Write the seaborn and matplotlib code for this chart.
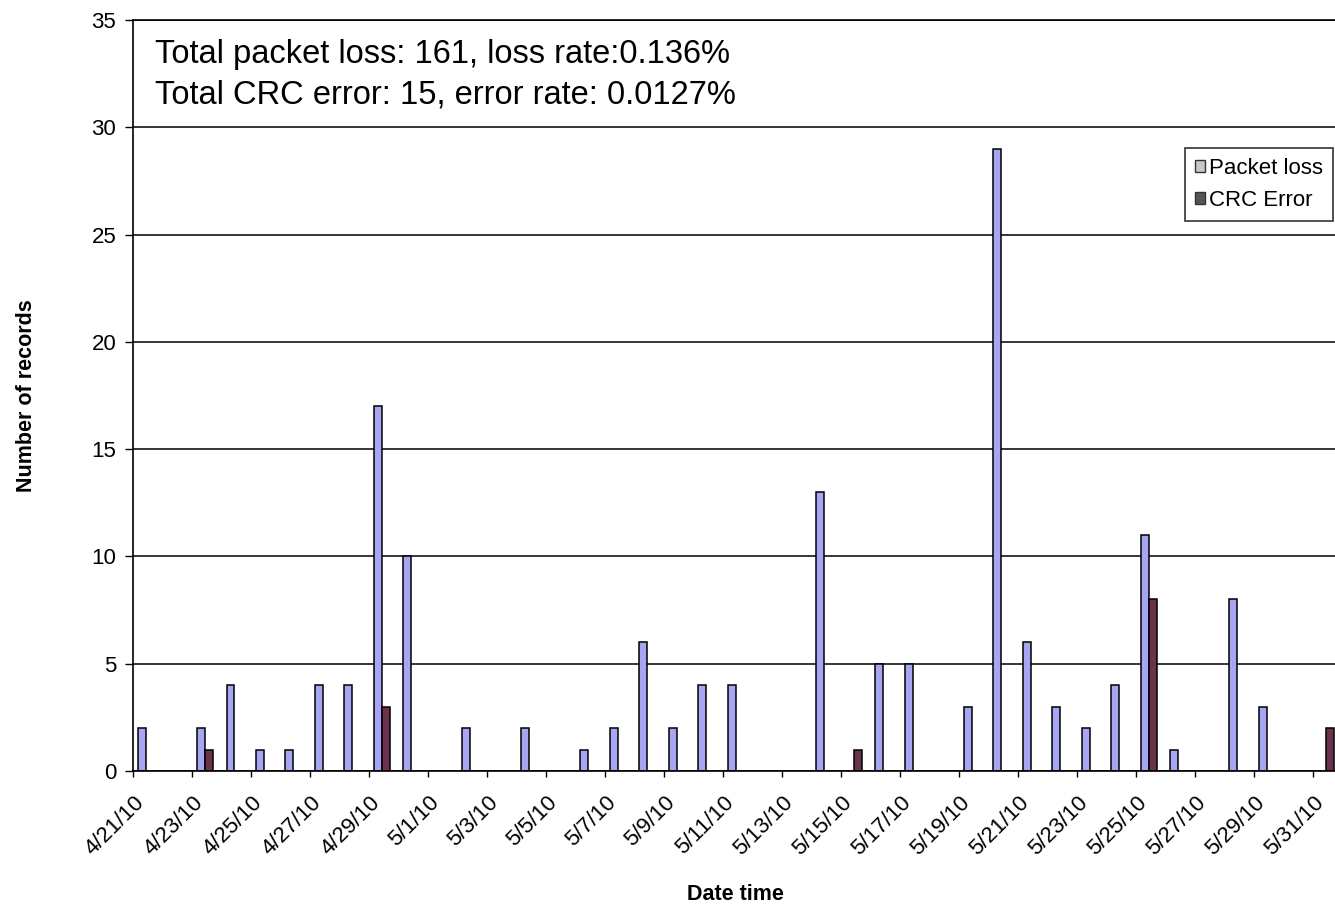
import numpy as np
import pandas as pd
import matplotlib
matplotlib.use("Agg")
import matplotlib.pyplot as plt
from matplotlib.patches import Patch
from matplotlib.transforms import ScaledTranslation
import seaborn as sns

# ---- data ----
loss_dates = ["4/21/10", "4/23/10", "4/24/10", "4/25/10", "4/26/10", "4/27/10", "4/28/10",
              "4/29/10", "4/30/10", "5/2/10", "5/4/10", "5/6/10", "5/7/10", "5/8/10",
              "5/9/10", "5/10/10", "5/11/10", "5/14/10", "5/16/10", "5/17/10", "5/19/10",
              "5/20/10", "5/21/10", "5/22/10", "5/23/10", "5/24/10", "5/25/10", "5/26/10",
              "5/28/10", "5/29/10"]
loss_counts = [2, 2, 4, 1, 1, 4, 4, 17, 10, 2, 2, 1, 2, 6, 2, 4, 4, 13, 5, 5, 3, 29, 6, 3,
               2, 4, 11, 1, 8, 3]
crc_dates = ["4/23/10", "4/29/10", "5/15/10", "5/25/10", "5/31/10"]
crc_counts = [1, 3, 1, 8, 2]
series_names = ["Packet loss", "CRC Error"]
note_lines = ["Total packet loss: 161, loss rate:0.136%",
              "Total CRC error: 15, error rate: 0.0127%"]

days = pd.date_range("2010-04-21", "2010-05-31", freq="D")
all_labels = [f"{d.month}/{d.day}/10" for d in days]

df = pd.DataFrame({
    "date": loss_dates + crc_dates,
    "count": loss_counts + crc_counts,
    "series": [series_names[0]] * len(loss_dates) + [series_names[1]] * len(crc_dates),
})

# ---- style ----
sns.set_style("white")
plt.rcParams["font.family"] = ["Liberation Sans", "DejaVu Sans"]
plt.rcParams["text.color"] = "black"
plt.rcParams["axes.labelcolor"] = "black"
plt.rcParams["xtick.color"] = "black"
plt.rcParams["ytick.color"] = "black"

W, H = 1335, 906
fig = plt.figure(figsize=(W / 100, H / 100), dpi=100)
ax = fig.add_axes([133 / W, 1 - 771 / H, 1 - 133 / W, (771 - 20) / H])

sns.barplot(data=df, x="date", y="count", hue="series", order=all_labels,
            hue_order=series_names,
            palette={"Packet loss": "#9999ff", "CRC Error": "#74284a"},
            width=0.54, edgecolor="black", linewidth=1.1, errorbar=None,
            legend=False, ax=ax)

ax.set_xlim(-0.44, 40.31)
ax.set_ylim(0, 35)
ax.set_yticks(range(0, 36, 5))
ax.yaxis.grid(True, color="black", linewidth=1.1)
ax.xaxis.grid(False)
ax.set_axisbelow(True)

bounds = np.arange(0, len(all_labels), 2) - 0.44
ax.set_xticks(bounds)
ax.set_xticklabels(all_labels[::2], rotation=45, ha="right", va="center",
                   rotation_mode="anchor", fontsize=16)
ax.tick_params(axis="x", length=4.5, width=1, pad=16, direction="out", bottom=True,
               colors="black")
ax.tick_params(axis="y", length=6, width=1, pad=6, direction="out", left=True,
               labelsize=16, colors="black")
off = ScaledTranslation(8 / 100, 0, fig.dpi_scale_trans)
for lab in ax.get_xticklabels():
    lab.set_transform(lab.get_transform() + off)

for side in ["left", "top", "bottom"]:
    ax.spines[side].set_visible(True)
    ax.spines[side].set_color("black")
    ax.spines[side].set_linewidth(1.2)
ax.spines["right"].set_visible(False)

ax.set_ylabel("Number of records", fontsize=15.5, fontweight="bold", color="black")
ax.set_xlabel("Date time", fontsize=15.5, fontweight="bold", color="black")
ax.yaxis.set_label_coords((37 - 133) / (W - 133), 0.5)
ax.xaxis.set_label_coords(0.5008, (771 - 884) / (771 - 20))

fig.text(155 / W, 1 - 63 / H, note_lines[0], fontsize=23.5, va="baseline", ha="left",
         color="black")
fig.text(155 / W, 1 - 104 / H, note_lines[1], fontsize=23.5, va="baseline", ha="left",
         color="black")

handles = [Patch(facecolor="#c8c8c8", edgecolor="#333333", linewidth=1),
           Patch(facecolor="#555555", edgecolor="#333333", linewidth=1)]
leg = ax.legend(handles, series_names, loc="upper right",
                bbox_to_anchor=(1333 / W, 1 - 148 / H), bbox_transform=fig.transFigure,
                fontsize=16, frameon=True, fancybox=False, shadow=False,
                handlelength=0.45, handleheight=0.45, handletextpad=0.2,
                labelspacing=0.5, borderpad=0.45, borderaxespad=0)
leg.get_frame().set_edgecolor("black")
leg.get_frame().set_linewidth(1.2)
for t in leg.get_texts():
    t.set_color("black")

fig.savefig("out.png", dpi=100)
